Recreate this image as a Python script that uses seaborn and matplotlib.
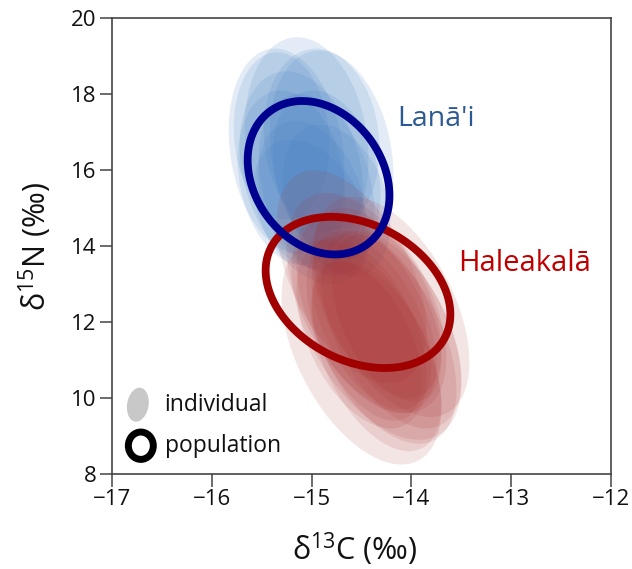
import numpy as np
import pandas as pd
import matplotlib
matplotlib.use("Agg")
import matplotlib.pyplot as plt
import seaborn as sns
from matplotlib.patches import Polygon, Ellipse

# ---------------- data ----------------
# individual ellipses: centre (cx, cy), half-extent in x and y (sx, sy), correlation rho
lanai_cx = [-15.25, -15.05, -14.80, -15.10, -14.95, -15.20, -14.85, -15.00, -14.90, -14.75, -15.30, -15.00]
lanai_cy = [16.5, 16.7, 16.4, 16.0, 15.6, 15.8, 15.9, 15.3, 16.8, 15.2, 16.9, 14.9]
lanai_sx = [0.58, 0.62, 0.62, 0.62, 0.58, 0.54, 0.54, 0.54, 0.58, 0.54, 0.48, 0.58]
lanai_sy = [2.70, 2.80, 2.75, 2.60, 2.40, 2.30, 2.20, 2.00, 2.40, 2.00, 2.20, 1.90]
lanai_rho = [-0.20, -0.15, -0.20, -0.25, -0.30, -0.20, -0.25, -0.30, -0.10, -0.30, -0.10, -0.35]

hale_cx = [-14.50, -14.20, -14.60, -14.35, -14.45, -14.30, -14.45, -14.20, -14.50, -14.35, -14.35, -14.40, -14.25, -14.45]
hale_cy = [11.2, 12.4, 13.2, 11.9, 12.5, 11.6, 12.2, 11.8, 11.7, 12.5, 11.1, 12.0, 12.1, 11.5]
hale_sx = [0.80, 0.78, 0.75, 0.85, 0.80, 0.75, 0.70, 0.70, 0.65, 0.65, 0.65, 0.60, 0.55, 0.55]
hale_sy = [2.95, 2.90, 2.80, 3.00, 2.90, 2.80, 2.60, 2.60, 2.50, 2.50, 2.50, 2.30, 2.20, 2.10]
hale_rho = [-0.50, -0.50, -0.50, -0.50, -0.50, -0.50, -0.50, -0.50, -0.45, -0.50, -0.50, -0.50, -0.50, -0.50]

# population ellipses
pop_names = ["Lanā'i", "Haleakalā"]
pop_cx = [-14.93, -14.535]
pop_cy = [15.80, 12.78]
pop_sx = [0.71, 0.925]
pop_sy = [2.02, 1.99]
pop_rho = [-0.23, -0.29]

x_ticks = [-17, -16, -15, -14, -13, -12]
y_ticks = [8, 10, 12, 14, 16, 18, 20]

# ---------------- style ----------------
sns.set_theme(style="ticks")
plt.rcParams["font.family"] = ["Open Sans", "DejaVu Sans"]
plt.rcParams["mathtext.fontset"] = "custom"
plt.rcParams["mathtext.rm"] = "Open Sans"
plt.rcParams["mathtext.it"] = "Open Sans"

fig = plt.figure(figsize=(6.32, 5.69), dpi=100)
ax = fig.add_axes([0.177, 0.167, 0.790, 0.801])


def ellipse_xy(cx, cy, sx, sy, rho, n=240):
    t = np.linspace(0, 2 * np.pi, n)
    x = cx + sx * np.cos(t)
    y = cy + sy * (rho * np.cos(t) + np.sqrt(1 - rho ** 2) * np.sin(t))
    return x, y


rows = []
for g, cxs, cys, sxs, sys_, rhos in [
    ("Lanā'i", lanai_cx, lanai_cy, lanai_sx, lanai_sy, lanai_rho),
    ("Haleakalā", hale_cx, hale_cy, hale_sx, hale_sy, hale_rho),
]:
    for i, (a, b, c, d, e) in enumerate(zip(cxs, cys, sxs, sys_, rhos)):
        rows.append(dict(group=g, idx=i, cx=a, cy=b, sx=c, sy=d, rho=e))
ind = pd.DataFrame(rows)

fill_col = {"Lanā'i": "#3F7CC0", "Haleakalā": "#A83030"}
fill_alpha = {"Lanā'i": 0.14, "Haleakalā": 0.125}
line_col = {"Lanā'i": "#00008F", "Haleakalā": "#A00000"}
text_col = {"Lanā'i": "#2B5A92", "Haleakalā": "#C00000"}

for g in ["Lanā'i", "Haleakalā"]:
    sub = ind[ind.group == g]
    for _, r in sub.iterrows():
        x, y = ellipse_xy(r.cx, r.cy, r.sx, r.sy, r.rho)
        ax.fill(x, y, color=fill_col[g], alpha=fill_alpha[g], lw=0, zorder=2)

for k in [1, 0]:
    x, y = ellipse_xy(pop_cx[k], pop_cy[k], pop_sx[k], pop_sy[k], pop_rho[k])
    ax.add_patch(Polygon(np.column_stack([x, y]), closed=True, fill=False,
                         edgecolor=line_col[pop_names[k]], lw=5.6, zorder=4,
                         joinstyle="round"))

ax.text(-14.14, 17.35, "Lanā'i", color=text_col["Lanā'i"], fontsize=20.5,
        ha="left", va="center", zorder=5)
ax.text(-13.53, 13.55, "Haleakalā", color=text_col["Haleakalā"], fontsize=21,
        ha="left", va="center", zorder=5)

# legend (axes-fraction coordinates)
ax.add_patch(Ellipse((0.052, 0.152), 0.043, 0.075, angle=-8, transform=ax.transAxes,
                     facecolor="#C8C8C8", edgecolor="none", zorder=5))
ax.add_patch(Ellipse((0.058, 0.062), 0.050, 0.060, transform=ax.transAxes,
                     facecolor="none", edgecolor="black", lw=5.0, zorder=5))
ax.text(0.104, 0.152, "individual", transform=ax.transAxes, fontsize=16.5,
        ha="left", va="center", color="#111111")
ax.text(0.106, 0.062, "population", transform=ax.transAxes, fontsize=16.5,
        ha="left", va="center", color="#111111")

ax.set_xlim(-17, -12)
ax.set_ylim(8, 20)
ax.set_xticks(x_ticks)
ax.set_yticks(y_ticks)
ax.set_xticklabels([f"\u2212{abs(v)}" for v in x_ticks])
ax.set_yticklabels([str(v) for v in y_ticks])
ax.tick_params(axis="both", direction="out", length=9, width=1.1, color="#444444",
               labelsize=16, labelcolor="#111111", pad=2)
for s in ax.spines.values():
    s.set_visible(True)
    s.set_color("#444444")
    s.set_linewidth(1.2)

ax.set_xlabel("δ$^{\\mathregular{13}}$C (‰)", fontsize=22, labelpad=12, color="#111111")
ax.xaxis.set_label_coords(0.487, -0.125)
ax.set_ylabel("δ$^{\\mathregular{15}}$N (‰)", fontsize=22, labelpad=12, color="#111111")

fig.savefig("out.png", dpi=100, facecolor="white")
